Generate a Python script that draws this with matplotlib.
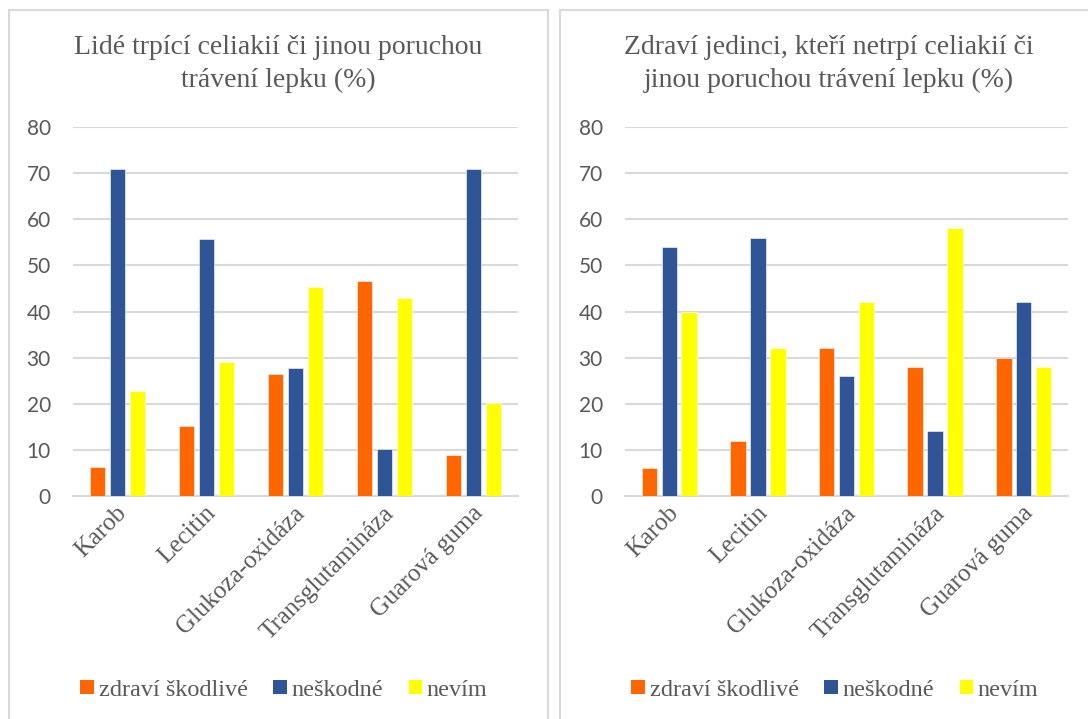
import matplotlib
matplotlib.use("Agg")
import matplotlib.pyplot as plt
from matplotlib.patches import Rectangle, Patch
from matplotlib.transforms import ScaledTranslation
import numpy as np

# Data (%)
categories = ["Karob", "Lecitin", "Glukoza-oxidáza", "Transglutamináza", "Guarová guma"]
series_names = ["zdraví škodlivé", "neškodné", "nevím"]

celiac_harmful = [6.2, 15.2, 26.5, 46.7, 8.8]
celiac_harmless = [70.8, 55.7, 27.8, 10.1, 70.8]
celiac_unknown = [22.8, 29.0, 45.4, 43.0, 20.2]

healthy_harmful = [6, 12, 32, 28, 30]
healthy_harmless = [54, 56, 26, 14, 42]
healthy_unknown = [40, 32, 42, 58, 28]

title_celiac = ["Lidé trpící celiakií či jinou poruchou", "trávení lepku (%)"]
title_healthy = ["Zdraví jedinci, kteří netrpí celiakií či", "jinou poruchou trávení lepku (%)"]

yticks = [0, 10, 20, 30, 40, 50, 60, 70, 80]

colors = ["#FF6600", "#2F5597", "#FFFF00"]
text_gray = "#595959"
grid_gray = "#D9D9D9"
serif = ["Liberation Serif", "DejaVu Serif"]
sans = ["Lato", "DejaVu Sans"]

W, H = 1088, 719
fig = plt.figure(figsize=(W / 100, H / 100), dpi=100)


def fx(px):
    return px / W


def fy(py):
    return 1 - py / H


# Panel frames
for x0, x1 in [(9, 548), (560, 1097)]:
    fig.patches.append(Rectangle((fx(x0), fy(740)), fx(x1 - x0), (740 - 10) / H,
                                 transform=fig.transFigure, fill=False,
                                 edgecolor=grid_gray, linewidth=1.5, zorder=0))


def draw_panel(ax_left, ax_right, panel_center, title_lines, values):
    ax = fig.add_axes([fx(ax_left), fy(496), fx(ax_right - ax_left), (496 - 127) / H])
    x = np.arange(len(categories))
    width = 0.176
    step = 0.224
    for i, (vals, c) in enumerate(zip(values, colors)):
        ax.bar(x + (i - 1) * step, vals, width=width, color=c,
               edgecolor="white", linewidth=0.4, zorder=3)
    ax.set_xlim(-0.5, len(categories) - 0.5)
    ax.set_ylim(0, 80)
    ax.set_yticks(yticks)
    ax.set_yticklabels([str(t) for t in yticks], fontfamily=sans, fontsize=15,
                       color=text_gray)
    ax.tick_params(axis="y", length=0, pad=16)
    ax.set_xticks(x)
    ax.set_xticklabels(categories, rotation=45, ha="right", va="center",
                       rotation_mode="anchor", fontfamily=serif, fontsize=18,
                       color=text_gray)
    ax.tick_params(axis="x", length=0, pad=10)
    shift = ScaledTranslation(6 / 100, 0, fig.dpi_scale_trans)
    for lbl in ax.get_xticklabels():
        lbl.set_transform(lbl.get_transform() + shift)
    ax.yaxis.grid(True, color=grid_gray, linewidth=1.5, zorder=0)
    ax.set_axisbelow(True)
    for s in ["top", "right", "left"]:
        ax.spines[s].set_visible(False)
    ax.spines["bottom"].set_color(grid_gray)
    ax.spines["bottom"].set_linewidth(1.5)

    for line, ypx in zip(title_lines, [48, 80]):
        fig.text(fx(panel_center), fy(ypx), line, ha="center", va="center",
                 fontfamily=serif, fontsize=20, color=text_gray)

    handles = [Patch(facecolor=c, edgecolor="none") for c in colors]
    fig.legend(handles, series_names, loc="center",
               bbox_to_anchor=(fx(panel_center + 6), fy(690)), ncol=3,
               frameon=False, handlelength=0.55, handleheight=0.55,
               handletextpad=0.2, columnspacing=1.05,
               prop={"family": serif, "size": 17.5}, labelcolor=text_gray)


draw_panel(73, 518, 278, title_celiac, [celiac_harmful, celiac_harmless, celiac_unknown])
draw_panel(625, 1068, 829, title_healthy, [healthy_harmful, healthy_harmless, healthy_unknown])

fig.savefig("out.png", dpi=100, facecolor="white")
